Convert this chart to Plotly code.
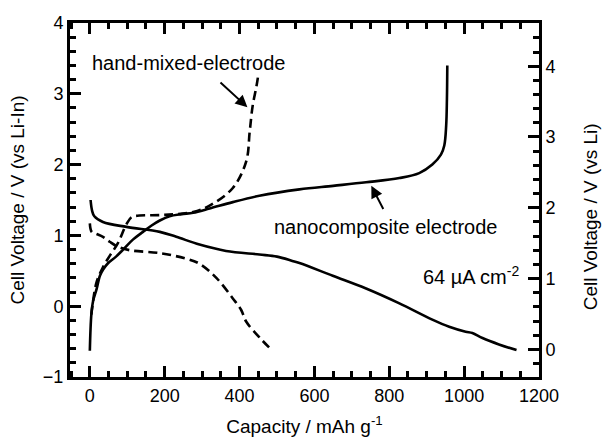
import plotly.graph_objects as go

# Capacity (mAh/g) and voltage (V vs Li-In)
nano_charge_x = [0, 4, 9, 18, 27, 36, 49, 70, 89, 115, 142, 165, 187, 213, 245, 276, 320, 382, 453, 560, 650, 738, 827, 880, 915, 938, 947, 952, 954, 955]
nano_charge_y = [-0.63, -0.12, 0.08, 0.24, 0.43, 0.52, 0.61, 0.70, 0.80, 0.94, 1.05, 1.14, 1.21, 1.27, 1.30, 1.32, 1.38, 1.47, 1.56, 1.65, 1.70, 1.75, 1.81, 1.88, 2.00, 2.14, 2.27, 2.55, 2.92, 3.40]

nano_dis_x = [2, 6, 12, 35, 98, 187, 231, 293, 364, 453, 500, 541, 560, 649, 738, 827, 915, 960, 1004, 1022, 1049, 1093, 1140]
nano_dis_y = [1.50, 1.35, 1.27, 1.19, 1.12, 1.05, 0.98, 0.87, 0.78, 0.73, 0.70, 0.64, 0.61, 0.43, 0.25, 0.04, -0.19, -0.29, -0.36, -0.38, -0.45, -0.54, -0.62]

hand_charge_x = [4, 7, 18, 35, 53, 75, 98, 112, 133, 200, 276, 320, 382, 418, 427, 435, 445, 451]
hand_charge_y = [-0.12, 0.01, 0.34, 0.55, 0.71, 0.89, 1.16, 1.26, 1.28, 1.29, 1.33, 1.42, 1.67, 2.05, 2.46, 2.83, 3.10, 3.30]

hand_dis_x = [0, 5, 18, 35, 53, 75, 107, 187, 258, 293, 338, 382, 404, 418, 453, 484]
hand_dis_y = [1.17, 1.05, 1.02, 0.98, 0.91, 0.84, 0.79, 0.75, 0.67, 0.60, 0.40, 0.11, -0.05, -0.22, -0.44, -0.61]

# Axis ranges
x_range = [-53, 1200]
y_range = [-1, 4]
y2_offset = 0.61  # V vs Li = V vs Li-In + offset
y2_range = [y_range[0] + y2_offset, y_range[1] + y2_offset]

FONT = "Liberation Sans, Arial, sans-serif"
W, H = 604, 447
M = dict(l=70, r=65, t=23, b=63)

fig = go.Figure()
solid = dict(color="black", width=2.6)
dashed = dict(color="black", width=2.6, dash="9px,5px")
fig.add_trace(go.Scatter(x=nano_charge_x, y=nano_charge_y, mode="lines", line=dict(**solid, shape="spline"), showlegend=False))
fig.add_trace(go.Scatter(x=nano_dis_x, y=nano_dis_y, mode="lines", line=dict(**solid, shape="spline"), showlegend=False))
fig.add_trace(go.Scatter(x=hand_charge_x, y=hand_charge_y, mode="lines", line=dict(**dashed, shape="spline"), showlegend=False))
fig.add_trace(go.Scatter(x=hand_dis_x, y=hand_dis_y, mode="lines", line=dict(**dashed, shape="spline"), showlegend=False))
# invisible trace to activate right axis
fig.add_trace(go.Scatter(x=[None], y=[None], yaxis="y2", showlegend=False, hoverinfo="skip"))

tickfont = dict(family=FONT, size=18, color="black")
axis_common = dict(
    showgrid=False, zeroline=False, showline=True, linecolor="black", linewidth=3,
    ticks="inside", ticklen=11, tickwidth=2.5, tickcolor="black", tickfont=tickfont,
)
minor_common = dict(ticks="inside", ticklen=6, tickwidth=2.5, tickcolor="black")

fig.update_layout(
    width=W, height=H, margin=M,
    paper_bgcolor="white", plot_bgcolor="white",
    font=dict(family=FONT, color="black"),
    xaxis=dict(
        **axis_common, range=x_range, tickmode="linear", tick0=0, dtick=200, mirror="ticks",
        minor=dict(dtick=50, **minor_common),
        title=dict(text="Capacity / mAh g<sup>-1</sup>", font=dict(family=FONT, size=19), standoff=16),
    ),
    yaxis=dict(
        **axis_common, range=y_range, tickmode="linear", tick0=0, dtick=1,
        minor=dict(dtick=0.2, **minor_common),
        title=dict(text="Cell Voltage / V (vs Li-In)", font=dict(family=FONT, size=19), standoff=14),
    ),
    yaxis2=dict(
        **axis_common, overlaying="y", side="right", range=y2_range, tickmode="linear", tick0=0, dtick=1,
        minor=dict(dtick=0.2, **minor_common),
    ),
)

ann_font = dict(family=FONT, size=20, color="black")
fig.add_annotation(x=1.1087, y=0.454, xref="paper", yref="paper", text="Cell Voltage / V (vs Li)",
                   textangle=-90, showarrow=False, xanchor="center", yanchor="middle",
                   font=dict(family=FONT, size=19, color="black"))
fig.add_annotation(x=0, y=3.43, text="hand-mixed-electrode", showarrow=False, xanchor="left", yanchor="middle", font=ann_font)
fig.add_annotation(x=421, y=2.81, ax=341, ay=3.2, axref="x", ayref="y", text=" ", showarrow=True,
                   arrowhead=2, arrowsize=1.2, arrowwidth=2, arrowcolor="black")
fig.add_annotation(x=1093, y=1.12, text="nanocomposite electrode", showarrow=False, xanchor="right", yanchor="middle", font=ann_font)
fig.add_annotation(x=752, y=1.70, ax=792, ay=1.29, axref="x", ayref="y", text=" ", showarrow=True,
                   arrowhead=2, arrowsize=1.2, arrowwidth=2, arrowcolor="black")
fig.add_annotation(x=1152, y=0.43, text="64 µA cm<sup>-2</sup>", showarrow=False, xanchor="right", yanchor="middle", font=ann_font)

fig.write_html("out.html")
